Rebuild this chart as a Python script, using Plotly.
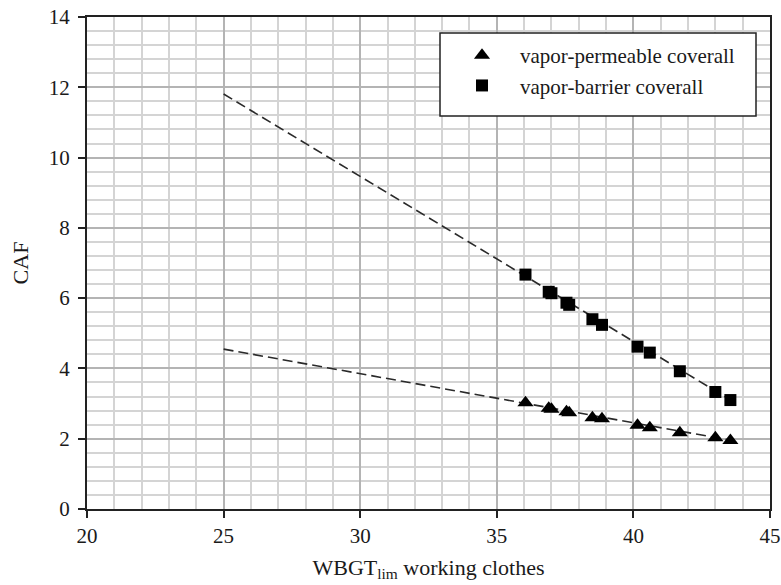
import plotly.graph_objects as go

# Data
perm_x = [36.05, 36.9, 37.0, 37.55, 37.65, 38.5, 38.85, 40.15, 40.6, 41.7, 43.0, 43.55]
perm_y = [3.02, 2.87, 2.84, 2.77, 2.74, 2.60, 2.57, 2.38, 2.31, 2.17, 2.03, 1.95]
barr_x = [36.05, 36.9, 37.0, 37.55, 37.65, 38.5, 38.85, 40.15, 40.6, 41.7, 43.0, 43.55]
barr_y = [6.67, 6.18, 6.14, 5.87, 5.81, 5.40, 5.24, 4.62, 4.45, 3.92, 3.33, 3.10]

trend_x = [25.0, 43.6]
perm_trend_y = [4.55, 1.95]
barr_trend_y = [11.81, 3.08]

x_ticks = [20, 25, 30, 35, 40, 45]
y_ticks = [0, 2, 4, 6, 8, 10, 12, 14]

FONT = "Liberation Serif"
TXT = "#1a1a1a"

fig = go.Figure()

for ty in (barr_trend_y, perm_trend_y):
    fig.add_trace(go.Scatter(x=trend_x, y=ty, mode="lines",
                             line=dict(color="#2a2a2a", width=1.6, dash="10px,5px"),
                             showlegend=False, hoverinfo="skip"))

fig.add_trace(go.Scatter(x=perm_x, y=perm_y, mode="markers",
                         name="vapor-permeable coverall",
                         marker=dict(symbol="triangle-up", size=14, color="black")))
fig.add_trace(go.Scatter(x=barr_x, y=barr_y, mode="markers",
                         name="vapor-barrier coverall",
                         marker=dict(symbol="square", size=12, color="black")))

axis_common = dict(
    showline=True, linecolor="#222222", linewidth=2, mirror=True,
    ticks="outside", ticklen=7, tickwidth=1.5, tickcolor="#222222",
    showgrid=True, gridcolor="#b4b4b4", gridwidth=2,
    zeroline=False, automargin=False,
    tickfont=dict(family=FONT, size=21, color=TXT),
)

fig.update_xaxes(range=[20, 45], tickvals=x_ticks,
                 minor=dict(dtick=1, showgrid=True, gridcolor="#d4d4d4", gridwidth=1.5, ticks=""),
                 title=dict(text="WBGT<sub>lim</sub> working clothes",
                            font=dict(family=FONT, size=22, color=TXT), standoff=12),
                 **axis_common)
fig.update_yaxes(range=[0, 14], tickvals=y_ticks, ticklabelstandoff=4,
                 minor=dict(dtick=0.4, showgrid=True, gridcolor="#d4d4d4", gridwidth=1.5, ticks=""),
                 title=dict(text="CAF", font=dict(family=FONT, size=22, color=TXT), standoff=14),
                 **axis_common)

# legend box
fig.add_shape(type="rect", xref="paper", yref="paper",
              x0=(440 - 87) / 683, x1=(756 - 87) / 683,
              y0=1 - (116 - 17) / 492, y1=1 - (33 - 17) / 492,
              fillcolor="white", line=dict(color="#222222", width=1.5), layer="above")

fig.update_layout(
    width=781, height=585,
    margin=dict(l=87, r=11, t=17, b=76),
    paper_bgcolor="white", plot_bgcolor="white",
    font=dict(family=FONT, color=TXT),
    legend=dict(x=(444 - 87) / 683, y=1 - (35 - 17) / 492, xanchor="left", yanchor="top",
                bgcolor="rgba(0,0,0,0)", borderwidth=0,
                font=dict(family=FONT, size=21, color=TXT),
                itemwidth=66, tracegroupgap=0),
)

fig.write_html("out.html")
